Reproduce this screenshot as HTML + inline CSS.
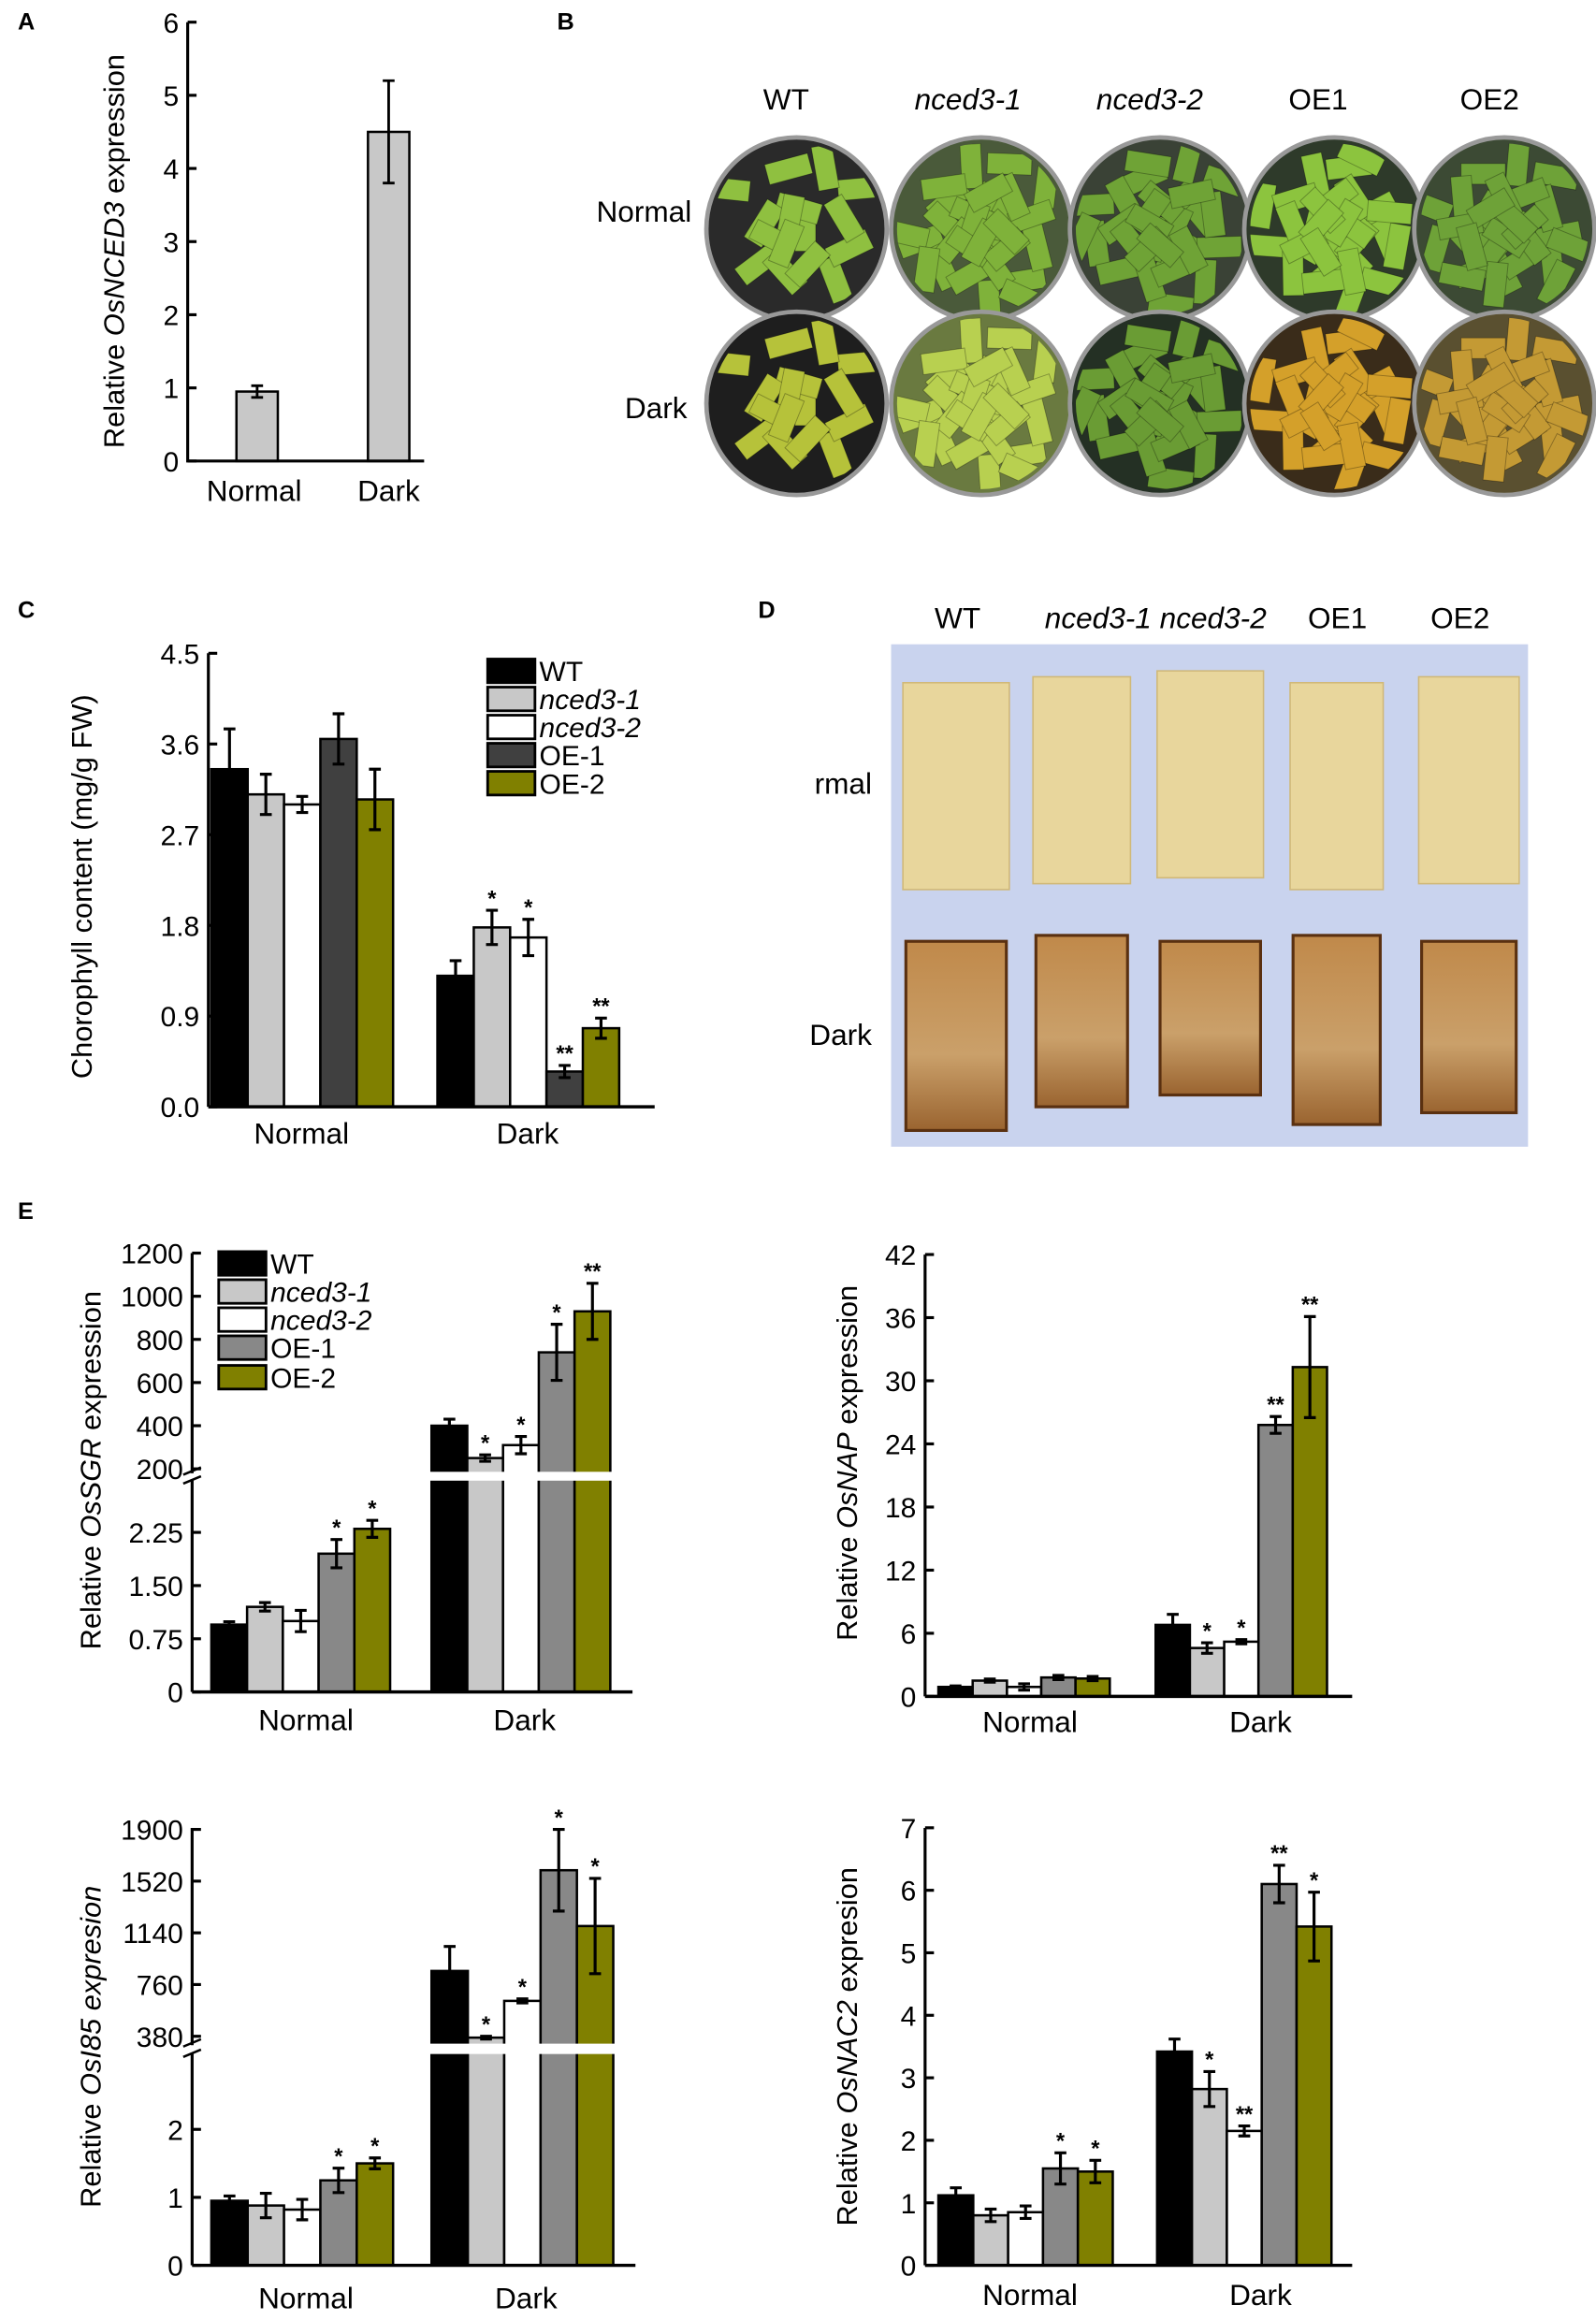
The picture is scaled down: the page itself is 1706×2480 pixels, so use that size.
<!DOCTYPE html>
<html><head><meta charset="utf-8"><style>
html,body{margin:0;padding:0;background:#fff;}
svg{display:block;font-family:"Liberation Sans",Arial,sans-serif;}
</style></head><body>
<svg id="fig" width="1706" height="2480" viewBox="0 0 1080 1570" xmlns="http://www.w3.org/2000/svg"></svg>
<script>
// ---- data ----
const groups = ["Normal", "Dark"];
const genotypes = ["WT", "nced3-1", "nced3-2", "OE-1", "OE-2"];

const aValues = [0.95, 4.5];
const aErr = [0.08, 0.7];
const aTicks = [0, 1, 2, 3, 4, 5, 6];

const cNormal = [3.35, 3.1, 3.0, 3.65, 3.05];
const cNormalErr = [0.4, 0.2, 0.08, 0.25, 0.3];
const cNormalSig = ["", "", "", "", ""];
const cDark = [1.3, 1.78, 1.68, 0.35, 0.78];
const cDarkErr = [0.15, 0.17, 0.18, 0.06, 0.1];
const cDarkSig = ["", "*", "*", "**", "**"];
const cTicks = [0, 0.9, 1.8, 2.7, 3.6, 4.5];
const cTickLabels = ["0.0", "0.9", "1.8", "2.7", "3.6", "4.5"];

const sgrNormal = [0.95, 1.2, 1.0, 1.95, 2.3];
const sgrNormalErr = [0.04, 0.06, 0.15, 0.2, 0.12];
const sgrNormalSig = ["", "", "", "*", "*"];
const sgrDark = [400, 250, 310, 740, 930];
const sgrDarkErr = [30, 15, 40, 130, 130];
const sgrDarkSig = ["", "*", "*", "*", "**"];
const sgrLowTicks = [0, 0.75, 1.5, 2.25];
const sgrLowLabels = ["0", "0.75", "1.50", "2.25"];
const sgrHighTicks = [200, 400, 600, 800, 1000, 1200];

const napNormal = [0.9, 1.5, 0.9, 1.8, 1.7];
const napNormalErr = [0.1, 0.15, 0.3, 0.2, 0.2];
const napNormalSig = ["", "", "", "", ""];
const napDark = [6.8, 4.6, 5.2, 25.8, 31.3];
const napDarkErr = [1, 0.5, 0.2, 0.8, 4.8];
const napDarkSig = ["", "*", "*", "**", "**"];
const napTicks = [0, 6, 12, 18, 24, 30, 36, 42];

const i85Normal = [0.95, 0.88, 0.82, 1.25, 1.5];
const i85NormalErr = [0.07, 0.18, 0.15, 0.18, 0.08];
const i85NormalSig = ["", "", "", "*", "*"];
const i85Dark = [860, 370, 640, 1600, 1190];
const i85DarkErr = [180, 10, 15, 300, 350];
const i85DarkSig = ["", "*", "*", "*", "*"];
const i85LowTicks = [0, 1, 2];
const i85HighTicks = [380, 760, 1140, 1520, 1900];

const nac2Normal = [1.12, 0.8, 0.85, 1.55, 1.5];
const nac2NormalErr = [0.12, 0.1, 0.1, 0.25, 0.18];
const nac2NormalSig = ["", "", "", "*", "*"];
const nac2Dark = [3.42, 2.82, 2.15, 6.1, 5.42];
const nac2DarkErr = [0.2, 0.28, 0.08, 0.3, 0.55];
const nac2DarkSig = ["", "*", "**", "**", "*"];
const nac2Ticks = [0, 1, 2, 3, 4, 5, 6, 7];

// ---- helpers ----
const NS = "http://www.w3.org/2000/svg";
const fig = document.getElementById("fig");
function mk(tag, attrs, parent) {
  const e = document.createElementNS(NS, tag);
  for (const k in attrs) e.setAttribute(k, attrs[k]);
  (parent || fig).appendChild(e);
  return e;
}
function txt(s, x, y, size, anchor, parent, extra) {
  const t = mk("text", Object.assign({x: x, y: y, "font-size": size, "text-anchor": anchor || "middle", fill: "#000"}, extra || {}), parent);
  t.textContent = s;
  return t;
}
function panelLetter(s, x, y) {
  const t = txt(s, x, y, 16, "start", fig, {"font-weight": "bold"});
  
  
}
function yTitle(parts, cx, cy, size, parent) {
  const t = mk("text", {x: 0, y: 0, "font-size": size, "text-anchor": "middle", transform: "translate(" + cx + "," + cy + ") rotate(-90)"}, parent);
  parts.forEach(p => {
    const ts = mk("tspan", p[1] ? {"font-style": "italic"} : {}, t);
    ts.textContent = p[0];
  });
  
  
}

const colorsC = ["#000000", "#c8c8c8", "#ffffff", "#404040", "#808000"];
const colorsE = ["#000000", "#c8c8c8", "#ffffff", "#888888", "#808000"];

// generic grouped bar chart
function chart(o) {
  const g = mk("g", {});
  
  
  const sw = 1.6;
  o.sets.forEach((set, gi) => {
    set.vals.forEach((v, i) => {
      const x = o.starts[gi] + i * o.bw;
      const yt = o.scale(v);
      const r = mk("rect", {x: x, y: yt, width: o.bw, height: o.bottom - yt, fill: o.colors[i], stroke: "#000", "stroke-width": sw}, g);
      
      
      const e = set.err[i];
      const cx = x + o.bw / 2;
      const y1 = o.scale(v + e), y2 = o.scale(Math.max(v - e, 0));
      const eb = mk("path", {d: "M" + cx + " " + y1 + "V" + y2 + "M" + (cx - 4) + " " + y1 + "H" + (cx + 4) + "M" + (cx - 4) + " " + y2 + "H" + (cx + 4), stroke: "#000", "stroke-width": 2, fill: "none"}, g);
      
      
      if (set.sig[i]) {
        const s = txt(set.sig[i], cx, y1 - 3, 15, "middle", g, {"font-weight": "bold"});
        
        
      }
    });
  });
  if (o.gap) {
    const gp = mk("rect", {x: o.axisX + 2, y: o.gap[0], width: o.xEnd - o.axisX, height: o.gap[1] - o.gap[0], fill: "#fff"}, g);
    
    
  }
  let yd = "M" + o.axisX + " " + o.top + "V" + o.bottom;
  if (o.gap) yd = "M" + o.axisX + " " + o.top + "V" + (o.gap[0] + 1) + "M" + o.axisX + " " + (o.gap[1] - 1) + "V" + o.bottom;
  const ya = mk("path", {d: yd, stroke: "#000", "stroke-width": 2, fill: "none"}, g);
  
  
  const xa = mk("path", {d: "M" + o.axisX + " " + o.bottom + "H" + o.xEnd, stroke: "#000", "stroke-width": 2.2}, g);
  
  
  if (o.gap) {
    const bm = mk("path", {d: "M" + (o.axisX - 6) + " " + (o.gap[0] + 2) + "L" + (o.axisX + 6) + " " + (o.gap[0] - 3) + "M" + (o.axisX - 6) + " " + (o.gap[1] + 2) + "L" + (o.axisX + 6) + " " + (o.gap[1] - 3), stroke: "#000", "stroke-width": 1.6}, g);
    
    
  }
  o.ticks.forEach((t, i) => {
    const y = o.scale(t);
    const tk = mk("line", {x1: o.axisX, x2: o.axisX + 6, y1: y, y2: y, stroke: "#000", "stroke-width": 2}, g);
    
    
    const lb = txt(o.tickLabels ? o.tickLabels[i] : String(t), o.axisX - 6, y + 7, o.tickSize || 19, "end", g);
    
    
  });
  o.groupLabelX.forEach((x, i) => {
    const gl = txt(groups[i], x, o.groupLabelY, 20, "middle", g);
    
    
  });
  yTitle(o.title, o.titleX, o.titleY, 19.5, g);
  return g;
}

function legend(x, ys, colors, h) {
  const g = mk("g", {});
  
  
  genotypes.forEach((n, i) => {
    const r = mk("rect", {x: x, y: ys[i], width: 32, height: h, fill: colors[i], stroke: "#000", "stroke-width": 1.8}, g);
    
    
    const t = txt(n, x + 35, ys[i] + h - 1, 19, "start", g, n.startsWith("nced") ? {"font-style": "italic"} : {});
    
    
  });
}

// ---- Panel A ----
panelLetter("A", 12, 20);
(function () {
  const g = mk("g", {});
  
  
  const sc = v => 312 - v * 49.5;
  const xs = [160, 249];
  aValues.forEach((v, i) => {
    const r = mk("rect", {x: xs[i], y: sc(v), width: 28, height: 312 - sc(v), fill: "#c8c8c8", stroke: "#000", "stroke-width": 1.6}, g);
    
    
    const cx = xs[i] + 14, y1 = sc(v + aErr[i]), y2 = sc(v - aErr[i]);
    const eb = mk("path", {d: "M" + cx + " " + y1 + "V" + y2 + "M" + (cx - 4) + " " + y1 + "H" + (cx + 4) + "M" + (cx - 4) + " " + y2 + "H" + (cx + 4), stroke: "#000", "stroke-width": 1.8, fill: "none"}, g);
    
    
    const gl = txt(groups[i], [172, 263][i], 339, 20, "middle", g);
    
    
  });
  const ax = mk("path", {d: "M127 15V312H287", stroke: "#000", "stroke-width": 2, fill: "none"}, g);
  
  
  aTicks.forEach(t => {
    const tk = mk("line", {x1: 127, x2: 133, y1: sc(t), y2: sc(t), stroke: "#000", "stroke-width": 2}, g);
    
    
    const lb = txt(String(t), 121, sc(t) + 7, 19, "end", g);
    
    
  });
  yTitle([["Relative ", false], ["OsNCED3", true], [" expression", false]], 84, 170, 19.5, g);
})();

// ---- Panel B (photo plates) ----
panelLetter("B", 377, 20);
(function () {
  const g = mk("g", {});
  
  
  const defs = mk("defs", {}, g);
  const heads = ["WT", "nced3-1", "nced3-2", "OE1", "OE2"];
  const hx = [532, 655, 778, 892, 1008];
  heads.forEach((h, i) => {
    const t = txt(h, hx[i], 74, 20, "middle", g, h.startsWith("nced") ? {"font-style": "italic"} : {});
    
    
  });
  const r1 = txt("Normal", 468, 150, 20, "end", g);
  
  
  const r2 = txt("Dark", 465, 283, 20, "end", g);
  
  
  const cxs = [539, 664, 785, 903, 1018];
  const rows = [155, 273];
  const leafCol = [
    ["#8fc040", "#7fb23a", "#6fa336", "#8cc43e", "#6ea238"],
    ["#b6c23a", "#b8d050", "#6a9c34", "#d4a02a", "#c49a34"]
  ];
  const bg = [
    ["#2a2a2a", "#4a5a3a", "#3a4236", "#2e3a2a", "#3c4a34"],
    ["#1e1e1e", "#6a7a40", "#243024", "#3a2c1a", "#5a5030"]
  ];
  rows.forEach((cy, ri) => {
    cxs.forEach((cx, ci) => {
      const cp = mk("clipPath", {id: "cp" + ri + ci}, defs);
      mk("ellipse", {cx: cx, cy: cy, rx: 57, ry: 58}, cp);
      const p = mk("ellipse", {cx: cx, cy: cy, rx: 61, ry: 62, fill: bg[ri][ci], stroke: "#999", "stroke-width": 3}, g);
      
      
      const lg = mk("g", {"clip-path": "url(#cp" + ri + ci + ")"}, g);
      const dens = (ri === 0 && ci === 0) || (ri === 1 && ci === 0) ? 16 : 30;
      for (let k = 0; k < dens; k++) {
        const a = (k * 137.5 + ci * 31) % 360;
        const rr = 6 + (k * 29 + ci * 7) % 50;
        const lx = cx + rr * Math.cos(a * Math.PI / 180);
        const ly = cy + rr * Math.sin(a * Math.PI / 180);
        const leaf = mk("rect", {x: lx - 7, y: ly - 15, width: 14, height: 30, fill: leafCol[ri][ci], stroke: "rgba(0,0,0,0.3)", "stroke-width": 0.6, transform: "rotate(" + ((k * 53 + ci * 17) % 180) + " " + lx + " " + ly + ")"}, lg);
        
        
      }
    });
  });
})();

// ---- Panel C ----
panelLetter("C", 12, 418);
chart({
  name: "chart-c-chlorophyll", axisX: 141, top: 442, bottom: 749, xEnd: 443,
  scale: v => 749 - v * 68.2, ticks: cTicks, tickLabels: cTickLabels,
  starts: [143, 296], bw: 24.6, colors: colorsC,
  sets: [{vals: cNormal, err: cNormalErr, sig: cNormalSig}, {vals: cDark, err: cDarkErr, sig: cDarkSig}],
  groupLabelX: [204, 357], groupLabelY: 774,
  title: [["Chorophyll content (mg/g FW)", false]], titleX: 62, titleY: 600
});
legend(330, [446, 465, 484, 503, 522], colorsC, 16);

// ---- Panel D (photo) ----
panelLetter("D", 513, 418);
(function () {
  const g = mk("g", {});
  
  
  const defs = mk("defs", {}, g);
  const gr = mk("linearGradient", {id: "brown", x1: 0, y1: 0, x2: 0, y2: 1}, defs);
  mk("stop", {offset: "0", "stop-color": "#c0894a"}, gr);
  mk("stop", {offset: "0.6", "stop-color": "#caa06a"}, gr);
  mk("stop", {offset: "1", "stop-color": "#9a6430"}, gr);
  const bgp = mk("rect", {x: 603, y: 436, width: 431, height: 340, fill: "#c9d3ee"}, g);
  
  
  const hs = [["WT", 648, false], ["nced3-1 nced3-2", 782, true], ["OE1", 905, false], ["OE2", 988, false]];
  hs.forEach(h => {
    const t = txt(h[0], h[1], 425, 20, "middle", g, h[2] ? {"font-style": "italic"} : {});
    
    
  });
  const l1 = txt("rmal", 590, 537, 20, "end", g);
  
  
  const l2 = txt("Dark", 590, 707, 20, "end", g);
  
  
  const xs = [611, 699, 783, 873, 960];
  const ws = [72, 66, 72, 63, 68];
  xs.forEach((x, i) => {
    const a = mk("rect", {x: x, y: 462 - (i % 3) * 4, width: ws[i], height: 140, fill: "#e8d69c", stroke: "#d0b878", "stroke-width": 1}, g);
    
    
    const b = mk("rect", {x: x + 2, y: 637 - (i % 2) * 4, width: ws[i] - 4, height: 128 - (i % 3) * 12, fill: "url(#brown)", stroke: "#5a3010", "stroke-width": 2}, g);
    
    
  });
})();

// ---- Panel E ----
panelLetter("E", 12, 825);
chart({
  name: "chart-e-ossgr", axisX: 130, top: 848, bottom: 1145, xEnd: 428,
  scale: v => v <= 5 ? 1145 - v * 48 : 848 + (1200 - v) * 0.146,
  ticks: sgrLowTicks.concat(sgrHighTicks), tickLabels: sgrLowLabels.concat(sgrHighTicks.map(String)),
  starts: [143, 292], bw: 24.2, colors: colorsE, gap: [996, 1002],
  sets: [{vals: sgrNormal, err: sgrNormalErr, sig: sgrNormalSig}, {vals: sgrDark, err: sgrDarkErr, sig: sgrDarkSig}],
  groupLabelX: [207, 355], groupLabelY: 1171,
  title: [["Relative ", false], ["OsSGR", true], [" expression", false]], titleX: 68, titleY: 995
});
legend(148, [847, 866, 885, 904, 924], colorsE, 16);
chart({
  name: "chart-e-osnap", axisX: 626, top: 849, bottom: 1148, xEnd: 915,
  scale: v => 1148 - v * 7.12, ticks: napTicks,
  starts: [635, 782], bw: 23.2, colors: colorsE,
  sets: [{vals: napNormal, err: napNormalErr, sig: napNormalSig}, {vals: napDark, err: napDarkErr, sig: napDarkSig}],
  groupLabelX: [697, 853], groupLabelY: 1172,
  title: [["Relative ", false], ["OsNAP", true], [" expression", false]], titleX: 580, titleY: 990
});
chart({
  name: "chart-e-osi85", axisX: 130, top: 1237, bottom: 1533, xEnd: 430,
  scale: v => v <= 5 ? 1533 - v * 46 : 1238 + (1900 - v) * 35 / 380,
  ticks: i85LowTicks.concat(i85HighTicks),
  starts: [143, 292], bw: 24.6, colors: colorsE, gap: [1383, 1390],
  sets: [{vals: i85Normal, err: i85NormalErr, sig: i85NormalSig}, {vals: i85Dark, err: i85DarkErr, sig: i85DarkSig}],
  groupLabelX: [207, 356], groupLabelY: 1562,
  title: [["Relative ", false], ["OsI85 expresion", true]], titleX: 68, titleY: 1385
});
chart({
  name: "chart-e-osnac2", axisX: 626, top: 1237, bottom: 1533, xEnd: 915,
  scale: v => 1533 - v * 42.3, ticks: nac2Ticks,
  starts: [635, 783], bw: 23.6, colors: colorsE,
  sets: [{vals: nac2Normal, err: nac2NormalErr, sig: nac2NormalSig}, {vals: nac2Dark, err: nac2DarkErr, sig: nac2DarkSig}],
  groupLabelX: [697, 853], groupLabelY: 1560,
  title: [["Relative ", false], ["OsNAC2", true], [" expresion", false]], titleX: 580, titleY: 1385
});
</script>
</body></html>
